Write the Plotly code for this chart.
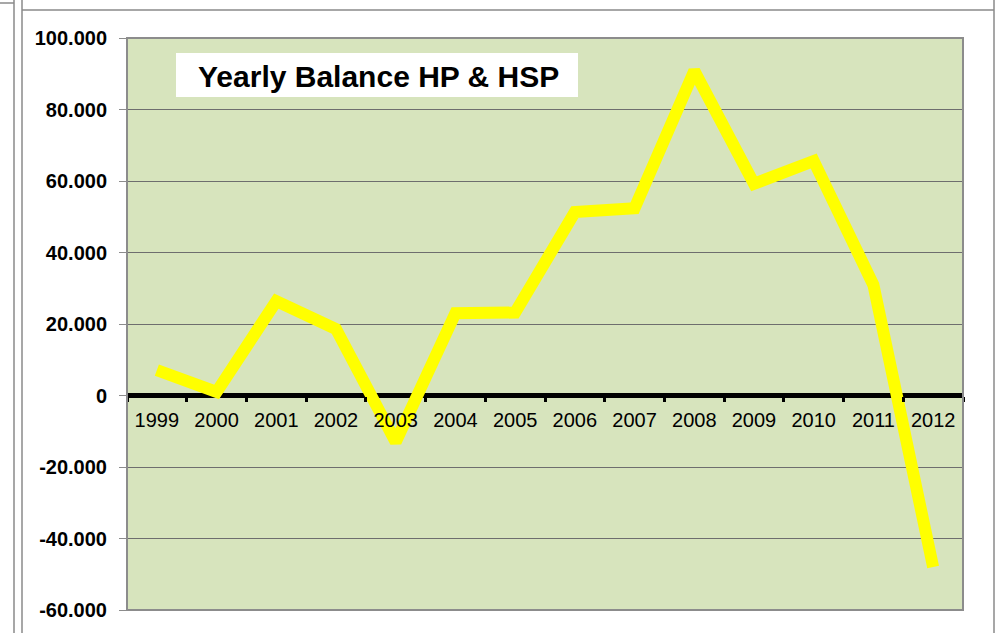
import plotly.graph_objects as go

years = ["1999", "2000", "2001", "2002", "2003", "2004", "2005", "2006",
         "2007", "2008", "2009", "2010", "2011", "2012"]
balance = [7100, 1000, 26400, 18600, -13000, 23000, 23200, 51300,
           52400, 90800, 59200, 65600, 30900, -48000]
y_tick_vals = [-60000, -40000, -20000, 0, 20000, 40000, 60000, 80000, 100000]
y_tick_text = ["-60.000", "-40.000", "-20.000", "0", "20.000", "40.000",
               "60.000", "80.000", "100.000"]
title_text = "Yearly Balance HP & HSP"

W, H = 1002, 633
L, R, T, B = 127, 963, 38, 610


def px(x):
    return (x - L) / (R - L)


def py(y):
    return (B - y) / (B - T)


FONT = "Arial, Liberation Sans, sans-serif"

fig = go.Figure()
fig.add_trace(go.Scatter(
    x=years, y=balance, mode="lines",
    line=dict(color="#FFFF00", width=12),
    hoverinfo="skip", showlegend=False,
))

shapes = []
GRAY = "#8A8A8A"
# spreadsheet cell borders around the chart
for (x0, y0, x1, y1) in [(14, 0, 14, H), (22, 0, 22, H), (22, 10, 994, 10),
                         (994, 0, 994, H), (0, 3, 14, 3)]:
    shapes.append(dict(type="line", xref="paper", yref="paper",
                       x0=px(x0), x1=px(x1), y0=py(y0), y1=py(y1),
                       line=dict(color=GRAY, width=1.5), layer="above"))
# plot area border
shapes.append(dict(type="rect", xref="paper", yref="paper",
                   x0=0, x1=1, y0=0, y1=1,
                   line=dict(color="#8C8C8C", width=2), layer="above"))
# title box
shapes.append(dict(type="rect", xref="paper", yref="paper",
                   x0=px(176), x1=px(578), y0=py(97), y1=py(53),
                   fillcolor="white", line=dict(width=0), layer="below"))

fig.update_layout(
    width=W, height=H,
    margin=dict(l=L, r=W - R, t=T, b=H - B, pad=0),
    paper_bgcolor="white",
    plot_bgcolor="#D7E4BD",
    font=dict(family=FONT, color="black"),
    shapes=shapes,
    annotations=[dict(
        text="<b>" + title_text + "</b>", xref="paper", yref="paper",
        x=px(378), y=py(76), xanchor="center", yanchor="middle",
        showarrow=False, font=dict(size=30, family=FONT, color="black"),
    )],
    xaxis=dict(
        type="category", categoryorder="array", categoryarray=years,
        range=[-0.5, len(years) - 0.5],
        anchor="free", position=0.375,
        showline=False, showgrid=False, zeroline=False,
        ticks="outside", tickson="boundaries", ticklen=5, tickwidth=3,
        tickcolor="black",
        tickfont=dict(size=20, family=FONT, color="black"),
        ticklabelstandoff=10,
        fixedrange=True,
    ),
    yaxis=dict(
        range=[-60000, 100000],
        tickvals=y_tick_vals, ticktext=y_tick_text,
        tickfont=dict(size=20, family=FONT, color="black", weight="bold"),
        ticks="outside", ticklen=7, tickwidth=1, tickcolor="#8C8C8C",
        showline=True, linecolor="#8C8C8C", linewidth=1,
        showgrid=True, gridcolor="#6E6E6E", gridwidth=1,
        zeroline=True, zerolinecolor="black", zerolinewidth=5,
        ticklabelstandoff=8,
        fixedrange=True,
    ),
)

fig.write_html("out.html",
               config={"displayModeBar": False},
               post_script="document.body.style.margin='0';"
                           "document.body.style.padding='0';")
